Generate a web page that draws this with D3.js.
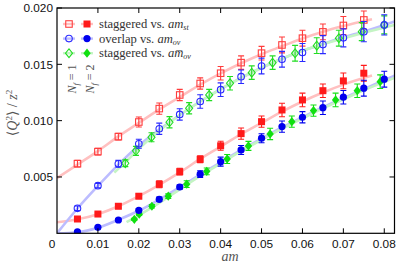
<!DOCTYPE html>
<html><head><meta charset="utf-8">
<script src="https://cdn.jsdelivr.net/npm/d3@7/dist/d3.min.js"></script>
<style>body{margin:0;background:#fff}svg{display:block}</style>
</head><body>
<svg id="c" width="402" height="267"></svg>
<script>
// ---- data ----
const xTicks = [0.01,0.02,0.03,0.04,0.05,0.06,0.07,0.08];
const xTickLabels = ["0.01","0.02","0.03","0.04","0.05","0.06","0.07","0.08"];
const yTicks = [0.005,0.010,0.015,0.020];
const yTickLabels = ["0.005","0.010","0.015","0.020"];

// Nf=1 staggered vs am_st (open squares)
const stag1X = [0.005,0.010,0.015,0.020,0.025,0.030,0.035,0.040,0.045,0.050,0.055,0.060,0.065,0.070,0.075];
const stag1Y = [0.00618,0.00725,0.00858,0.00988,0.01107,0.01228,0.01330,0.01421,0.01515,0.01599,0.01672,0.01732,0.01788,0.01845,0.01894];
const stag1E = [0.0003,0.0003,0.0003,0.00045,0.0005,0.0005,0.0005,0.0006,0.0006,0.0006,0.0007,0.0007,0.0007,0.0008,0.0008];
// Nf=2 staggered vs am_st (filled squares)
const stag2X = [0.005,0.010,0.015,0.020,0.025,0.030,0.035,0.040,0.045,0.050,0.055,0.060,0.065,0.070,0.075];
const stag2Y = [0.00127,0.00171,0.00240,0.00329,0.00435,0.00547,0.00657,0.00777,0.00885,0.00991,0.01095,0.01184,0.01266,0.01353,0.01421];
const stag2E = [0.0001,0.0001,0.00015,0.0002,0.0003,0.0003,0.0003,0.0004,0.0005,0.0005,0.0006,0.0006,0.0006,0.0007,0.0007];
// Nf=1 overlap vs am_ov (open circles)
const ov1X = [0.005,0.010,0.015,0.020,0.025,0.030,0.035,0.040,0.045,0.050,0.055,0.060,0.065,0.070,0.075,0.080];
const ov1Y = [0.00222,0.00423,0.00617,0.00795,0.00928,0.01055,0.01170,0.01275,0.01390,0.01485,0.01545,0.01605,0.01675,0.01735,0.01790,0.01850];
const ov1E = [0.0002,0.0002,0.0003,0.0004,0.0005,0.0005,0.0006,0.0006,0.0006,0.0007,0.0007,0.0008,0.0008,0.0008,0.0009,0.0009];
// Nf=2 overlap vs am_ov (filled circles)
const ov2X = [0.005,0.010,0.015,0.020,0.025,0.030,0.035,0.040,0.045,0.050,0.055,0.060,0.065,0.070,0.075,0.080];
const ov2Y = [0.00012,0.00053,0.00118,0.00204,0.00302,0.00411,0.00525,0.00636,0.00740,0.00844,0.00947,0.01030,0.01115,0.01208,0.01288,0.01368];
const ov2E = [0.00005,0.00008,0.0001,0.00015,0.0002,0.0002,0.0003,0.0004,0.0004,0.0004,0.0005,0.0005,0.0006,0.0006,0.0007,0.0007];
// Nf=1 staggered vs am_ov-bar (open diamonds)
const sb1X = [0.0167,0.0193,0.0231,0.0275,0.0323,0.0372,0.0423,0.0476,0.0527,0.0582,0.0635,0.0689,0.0745,0.0800];
const sb1Y = [0.00622,0.00732,0.00853,0.00986,0.01110,0.01228,0.01332,0.01426,0.01515,0.01598,0.01666,0.01732,0.01790,0.01850];
const sb1E = [0.0003,0.0004,0.0004,0.0005,0.0005,0.0005,0.0006,0.0006,0.0006,0.0007,0.0007,0.0007,0.0008,0.0008];
// Nf=2 staggered vs am_ov-bar (filled diamonds)
const sb2X = [0.0189,0.0201,0.0232,0.0272,0.0317,0.0366,0.0416,0.0468,0.0521,0.0574,0.0627,0.0681,0.0734,0.0790];
const sb2Y = [0.00124,0.00169,0.00240,0.00330,0.00436,0.00550,0.00660,0.00776,0.00882,0.00991,0.01089,0.01184,0.01266,0.01346];
const sb2E = [0.0001,0.0001,0.00015,0.0002,0.0003,0.0003,0.0004,0.0004,0.0005,0.0005,0.0005,0.0006,0.0006,0.0006];

// fit curves
const fitStag1X = [0,0.005,0.010,0.015,0.020,0.025,0.030,0.035,0.040,0.045,0.050,0.055,0.060,0.065,0.070,0.077];
const fitStag1Y = [0.0049,0.0061,0.0073,0.0086,0.0098,0.0110,0.0121,0.0132,0.0142,0.0151,0.0159,0.0166,0.0173,0.0179,0.0184,0.0190];
const fitStag2X = [0,0.005,0.010,0.015,0.020,0.025,0.030,0.035,0.040,0.045,0.050,0.055,0.060,0.065,0.070,0.077];
const fitStag2Y = [0.00098,0.00125,0.0017,0.0024,0.0033,0.0043,0.0054,0.0066,0.0077,0.0088,0.0098,0.0108,0.0117,0.0125,0.0132,0.0140];
const fitOv1X = [0,0.005,0.010,0.015,0.020,0.025,0.030,0.035,0.040,0.045,0.050,0.055,0.060,0.065,0.070,0.075,0.0825];
const fitOv1Y = [0,0.0022,0.0042,0.0061,0.0078,0.0092,0.0105,0.0117,0.0128,0.0138,0.0147,0.0155,0.0162,0.0168,0.0174,0.0179,0.0188];
const fitOv2X = [0,0.005,0.010,0.015,0.020,0.025,0.030,0.035,0.040,0.045,0.050,0.055,0.060,0.065,0.070,0.075,0.0825];
const fitOv2Y = [0,0.0001,0.0005,0.0012,0.0020,0.0030,0.0041,0.0052,0.0063,0.0074,0.0084,0.0094,0.0103,0.0112,0.0120,0.0128,0.0140];
const fitSb1X = [0.014,0.0167,0.020,0.025,0.030,0.035,0.040,0.045,0.050,0.055,0.060,0.065,0.070,0.075,0.0825];
const fitSb1Y = [0.0054,0.0063,0.0075,0.0091,0.0105,0.0117,0.0128,0.0138,0.0147,0.0155,0.0162,0.0168,0.0173,0.0178,0.0185];
const fitSb2X = [0.017,0.020,0.025,0.030,0.035,0.040,0.045,0.050,0.055,0.060,0.065,0.070,0.075,0.0825];
const fitSb2Y = [0.0010,0.0016,0.0027,0.0039,0.0051,0.0062,0.0073,0.0083,0.0093,0.0102,0.0111,0.0119,0.0127,0.0138];

// ---- drawing ----
const svg = d3.select("#c");
const L=57, R=394.5, T=8, B=233.3;
const x = d3.scaleLinear().domain([0,0.0825]).range([L,R]);
const y = d3.scaleLinear().domain([0,0.020]).range([B,T]);

const C = {
  red:"#ff1a1a", redOpen:"#ff3c3c", redFit:"#ffc0c0",
  blue:"#0000ee", blueOpen:"#2a2aff", blueFit:"#bcbcff",
  green:"#10e010", greenOpen:"#22dd22", greenFit:"#c4f4c4"
};

const zip = (xs,ys) => xs.map((v,i)=>[v,ys[i]]);
const line = d3.line().x(d=>x(d[0])).y(d=>y(d[1])).curve(d3.curveMonotoneX);

const plot = svg.append("g");
svg.append("clipPath").attr("id","clip").append("rect").attr("x",L).attr("y",T).attr("width",R-L).attr("height",B-T);
plot.attr("clip-path","url(#clip)");

[[fitStag1X,fitStag1Y,C.redFit],[fitStag2X,fitStag2Y,C.redFit],
 [fitOv1X,fitOv1Y,C.blueFit],[fitOv2X,fitOv2Y,C.blueFit],
 [fitSb1X,fitSb1Y,C.greenFit],[fitSb2X,fitSb2Y,C.greenFit]].forEach(([xs,ys,col])=>{
  plot.append("path").datum(zip(xs,ys)).attr("d",line)
    .attr("fill","none").attr("stroke",col).attr("stroke-width",2.6);
});

function errbars(xs,ys,es,col){
  const g = plot.append("g").attr("stroke",col).attr("stroke-width",1.1).attr("fill","none");
  xs.forEach((v,i)=>{
    const px=x(v), y1=y(ys[i]+es[i]), y0=y(ys[i]-es[i]);
    g.append("line").attr("x1",px).attr("x2",px).attr("y1",y1).attr("y2",y0);
    g.append("line").attr("x1",px-3).attr("x2",px+3).attr("y1",y1).attr("y2",y1);
    g.append("line").attr("x1",px-3).attr("x2",px+3).attr("y1",y0).attr("y2",y0);
  });
}
function markers(g, pts, shape, col, filled){
  pts.forEach(([px,py])=>{
    let m;
    if(shape==="square"){
      const s=filled?7:6.5;
      m=g.append("rect").attr("x",px-s/2).attr("y",py-s/2).attr("width",s).attr("height",s);
    } else if(shape==="circle"){
      m=g.append("circle").attr("cx",px).attr("cy",py).attr("r",filled?3.6:3.3);
    } else {
      const r=filled?4.6:4.4;
      m=g.append("path").attr("d",`M${px},${py-r}L${px+r*0.8},${py}L${px},${py+r}L${px-r*0.8},${py}Z`);
    }
    if(filled) m.attr("fill",col).attr("stroke","none");
    else m.attr("fill","none").attr("stroke",col).attr("stroke-width",1.1);
  });
}
function series(xs,ys,es,shape,col,filled){
  errbars(xs,ys,es,col);
  markers(plot.append("g"), xs.map((v,i)=>[x(v),y(ys[i])]), shape, col, filled);
}
series(stag1X,stag1Y,stag1E,"square",C.redOpen,false);
series(stag2X,stag2Y,stag2E,"square",C.red,true);
series(sb1X,sb1Y,sb1E,"diamond",C.greenOpen,false);
series(sb2X,sb2Y,sb2E,"diamond",C.green,true);
series(ov1X,ov1Y,ov1E,"circle",C.blueOpen,false);
series(ov2X,ov2Y,ov2E,"circle",C.blue,true);

svg.append("rect").attr("x",L).attr("y",T).attr("width",R-L).attr("height",B-T)
  .attr("fill","none").attr("stroke","#000").attr("stroke-width",1.2);

const tk = svg.append("g").attr("stroke","#000").attr("stroke-width",1);
xTicks.forEach(v=>{
  tk.append("line").attr("x1",x(v)).attr("x2",x(v)).attr("y1",B).attr("y2",B-5);
  tk.append("line").attr("x1",x(v)).attr("x2",x(v)).attr("y1",T).attr("y2",T+5);
});
yTicks.forEach(v=>{
  tk.append("line").attr("x1",L).attr("x2",L+5).attr("y1",y(v)).attr("y2",y(v));
  tk.append("line").attr("x1",R).attr("x2",R-5).attr("y1",y(v)).attr("y2",y(v));
});

const font = "'Liberation Sans', Arial, sans-serif";
const tl = svg.append("g").attr("font-family",font).attr("font-size",11.8).attr("fill","#111");
xTicks.forEach((v,i)=>{
  tl.append("text").attr("x",x(v)).attr("y",248).attr("text-anchor","middle").text(xTickLabels[i]);
});
tl.append("text").attr("x",52).attr("y",248).attr("text-anchor","middle").text("0");
yTicks.forEach((v,i)=>{
  tl.append("text").attr("x",53).attr("y",y(v)+4.2).attr("text-anchor","end").text(yTickLabels[i]);
});

const serif = "'Liberation Serif','DejaVu Serif',serif";
svg.append("text").attr("x",230).attr("y",261).attr("text-anchor","middle")
  .attr("font-family",serif).attr("font-style","italic").attr("font-size",14).attr("fill","#555").text("am");
const yl = svg.append("text").attr("transform","translate(17,113) rotate(-90)").attr("text-anchor","middle")
  .attr("font-family",serif).attr("font-size",14).attr("fill","#555");
yl.append("tspan").text("⟨");
yl.append("tspan").attr("font-style","italic").text("Q");
yl.append("tspan").attr("font-size",9).attr("dy",-5).text("2");
yl.append("tspan").attr("dy",5).text("⟩ / ");
yl.append("tspan").attr("font-style","italic").text("z");
yl.append("tspan").attr("font-size",9).attr("dy",-5).text("2");

const legRows = [
  {col:C.redOpen, colF:C.red, fit:C.redFit, shape:"square", sub:"st", m:"m", label:"staggered vs. "},
  {col:C.blueOpen, colF:C.blue, fit:C.blueFit, shape:"circle", sub:"ov", m:"m", label:"overlap vs. "},
  {col:C.greenOpen, colF:C.green, fit:C.greenFit, shape:"diamond", sub:"ov", m:"m\u0305", label:"staggered vs. "}
];
const lg = svg.append("g");
legRows.forEach((r,i)=>{
  const yy = 24 + i*14.6;
  lg.append("line").attr("x1",63).attr("x2",75).attr("y1",yy).attr("y2",yy).attr("stroke",r.fit).attr("stroke-width",2.4);
  lg.append("line").attr("x1",81).attr("x2",93).attr("y1",yy).attr("y2",yy).attr("stroke",r.fit).attr("stroke-width",2.4);
  markers(lg,[[69,yy]],r.shape,r.col,false);
  markers(lg,[[87,yy]],r.shape,r.colF,true);
  const t = lg.append("text").attr("x",99).attr("y",yy+4).attr("font-family",serif).attr("font-size",12.6).attr("fill","#333");
  t.append("tspan").text(r.label);
  t.append("tspan").attr("font-style","italic").text("a" + r.m);
  t.append("tspan").attr("font-size",8).attr("dy",2).attr("font-style","italic").text(r.sub);
});
[["1",76],["2",94]].forEach(([n,xx])=>{
  const t = svg.append("text").attr("transform",`translate(${xx},79) rotate(-90)`).attr("text-anchor","middle")
    .attr("font-family",serif).attr("font-size",12).attr("fill","#555");
  t.append("tspan").attr("font-style","italic").text("N");
  t.append("tspan").attr("font-style","italic").attr("font-size",8.5).attr("dy",3).text("f");
  t.append("tspan").attr("dy",-3).text(" = "+n);
});
</script>
</body></html>
